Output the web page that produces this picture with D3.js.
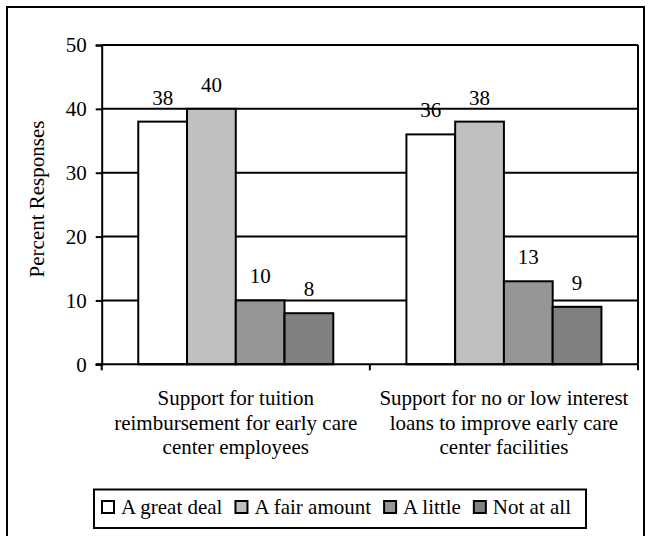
<!DOCTYPE html>
<html>
<head>
<meta charset="utf-8">
<script src="https://cdn.jsdelivr.net/npm/d3@7"></script>
<style>
  body { margin: 0; background: #fff; }
</style>
</head>
<body>
<svg id="chart" width="651" height="536"></svg>
<script>
// data
var categories = [
    ["Support for tuition", "reimbursement for early care", "center employees"],
    ["Support for no or low interest", "loans to improve early care", "center facilities"]
];
var series = ["A great deal", "A fair amount", "A little", "Not at all"];
var values = [
    [38, 40, 10, 8],
    [36, 38, 13, 9]
];
var yTicks = [0, 10, 20, 30, 40, 50];
var colors = ["#FFFFFF", "#C0C0C0", "#969696", "#808080"];

var FONT = "'Liberation Serif', serif";

function drawChart() {
    var svg = d3.select("#chart");
    var left = 101.7, right = 638, top = 45, bottom = 364.3;

    // outer frame
    svg.append("rect")
        .attr("x", 7).attr("y", 7)
        .attr("width", 637).attr("height", 560)
        .attr("fill", "none").attr("stroke", "#000").attr("stroke-width", 2);

    var y = d3.scaleLinear().domain([0, 50]).range([bottom, top]);
    var x0 = d3.scaleBand().domain([0, 1]).range([left, right]).padding(0);
    var x1 = d3.scaleBand().domain(d3.range(series.length))
        .range([0, x0.bandwidth()]).paddingInner(0).paddingOuter(0.75);

    // gridlines
    svg.append("g").selectAll("line")
        .data(yTicks.slice(1))
        .enter().append("line")
        .attr("x1", left).attr("x2", right)
        .attr("y1", function(d) { return y(d); })
        .attr("y2", function(d) { return y(d); })
        .attr("stroke", "#000").attr("stroke-width", 2);

    // right border of plot area
    svg.append("line")
        .attr("x1", right).attr("x2", right)
        .attr("y1", top).attr("y2", bottom)
        .attr("stroke", "#000").attr("stroke-width", 2);

    // bars
    var groups = svg.append("g").selectAll("g")
        .data(values)
        .enter().append("g")
        .attr("transform", function(d, i) { return "translate(" + x0(i) + ",0)"; });

    groups.selectAll("rect")
        .data(function(d) { return d; })
        .enter().append("rect")
        .attr("x", function(d, i) { return x1(i); })
        .attr("y", function(d) { return y(d); })
        .attr("width", x1.bandwidth())
        .attr("height", function(d) { return y(0) - y(d); })
        .attr("fill", function(d, i) { return colors[i]; })
        .attr("stroke", "#000").attr("stroke-width", 2);

    groups.selectAll("text")
        .data(function(d) { return d; })
        .enter().append("text")
        .attr("x", function(d, i) { return x1(i) + x1.bandwidth() / 2; })
        .attr("y", function(d) { return y(d) - 17; })
        .attr("text-anchor", "middle")
        .text(function(d) { return d; });

    // y axis
    var yAxis = svg.append("g")
        .attr("transform", "translate(" + left + ",0)")
        .call(d3.axisLeft(y).tickValues(yTicks).tickSize(6).tickPadding(9));
    yAxis.attr("font-family", null).attr("font-size", null);
    yAxis.select(".domain").attr("stroke", "#000").attr("stroke-width", 2);
    yAxis.selectAll(".tick line").attr("stroke", "#000").attr("stroke-width", 2);

    // x axis
    svg.append("line")
        .attr("x1", left - 6).attr("x2", right)
        .attr("y1", bottom).attr("y2", bottom)
        .attr("stroke", "#000").attr("stroke-width", 2);
    svg.append("g").selectAll("line")
        .data([0, 1, 2])
        .enter().append("line")
        .attr("x1", function(d) { return left + d * x0.step(); })
        .attr("x2", function(d) { return left + d * x0.step(); })
        .attr("y1", bottom).attr("y2", bottom + 6)
        .attr("stroke", "#000").attr("stroke-width", 2);

    // category labels
    svg.append("g").selectAll("text")
        .data(categories)
        .enter().append("text")
        .attr("text-anchor", "middle")
        .each(function(d, i) {
            for (var k = 0; k < d.length; k++) {
                d3.select(this).append("tspan")
                    .attr("x", x0(i) + x0.bandwidth() / 2)
                    .attr("y", 405 + k * 24.5)
                    .text(d[k]);
            }
        });

    // y title
    svg.append("text")
        .attr("transform", "translate(44," + 199 + ") rotate(-90)")
        .attr("text-anchor", "middle")
        .text("Percent Responses");

    // legend
    var legend = svg.append("g");
    var box = legend.append("rect")
        .attr("x", 94).attr("y", 489.5)
        .attr("height", 38.5)
        .attr("fill", "#fff").attr("stroke", "#000").attr("stroke-width", 2);
    var items = [];
    series.forEach(function(s, i) {
        var sq = legend.append("rect")
            .attr("y", 501)
            .attr("width", 12).attr("height", 12)
            .attr("fill", colors[i]).attr("stroke", "#000").attr("stroke-width", 2);
        var t = legend.append("text")
            .attr("y", 514)
            .text(s);
        items.push([sq, t]);
    });

    // every text in the same serif face
    svg.selectAll("text")
        .style("font-family", FONT)
        .style("font-size", "21px")
        .style("fill", "#000");

    var lx = 102;
    items.forEach(function(it) {
        it[0].attr("x", lx);
        it[1].attr("x", lx + 19);
        lx = lx + 19 + it[1].node().getComputedTextLength() + 13;
    });
    box.attr("width", lx - 13 + 15 - 94);
}

drawChart();
</script>
</body>
</html>
